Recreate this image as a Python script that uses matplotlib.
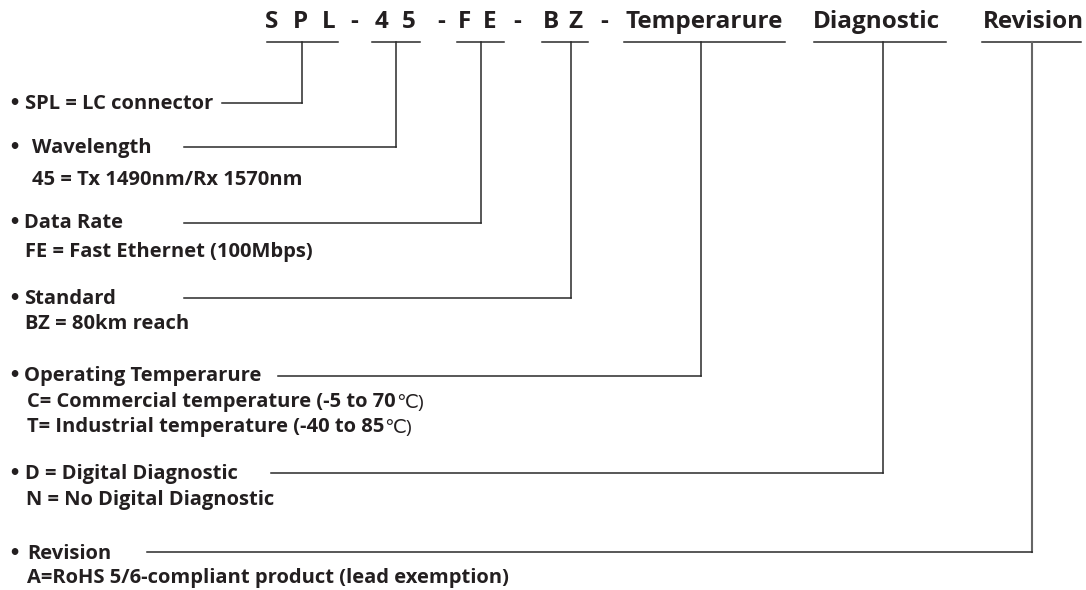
import matplotlib
matplotlib.use("Agg")
import matplotlib.pyplot as plt

# part number glyphs, drawn one by one (wide letter spacing in the original)
header_glyphs = ["S", "P", "L", "-", "4", "5", "-", "F", "E", "-", "B", "Z", "-",
                 "Temperarure", "Diagnostic", "Revision"]
# which glyphs belong to each underlined field
field_groups = [[0, 1, 2], [4, 5], [7, 8], [10, 11], [13], [14], [15]]

# bullet titles, one per field (same order as field_groups)
titles = ["SPL = LC connector",
          "Wavelength",
          "Data Rate",
          "Standard",
          "Operating Temperarure",
          "D = Digital Diagnostic",
          "Revision"]

# explanation lines under each title
details = [[],
           ["45 = Tx 1490nm/Rx 1570nm"],
           ["FE = Fast Ethernet (100Mbps)"],
           ["BZ = 80km reach"],
           ["C= Commercial temperature (-5 to 70", "T= Industrial temperature (-40 to 85"],
           ["N = No Digital Diagnostic"],
           ["A=RoHS 5/6-compliant product (lead exemption)"]]
# ending of the temperature lines, set in a lighter font
degree_suffix = "℃)"

# ---- layout (pixels, y downwards) ----
W, H = 1086, 590
glyph_x = [265, 293, 322, 350, 375, 402, 437, 458, 483, 513, 543, 568, 600,
           625, 813, 983]
header_base = 28
underline_y = 42
underline_pad = [(-2, 2), (3, 4), (1, 7), (1, 6), (1, 3), (-1, 6), (1, -3)]
# where the leader drops from each underline (fraction of its length)
drop_frac = [0.5, 0.5, 0.52, 0.62, 0.48, 0.52, 0.5]
bullet_x = 8
title_x = [25, 32, 24, 24, 24, 25, 27]
title_base = [109, 153, 228, 304, 381, 479, 559]
detail_x = [0, 32, 25, 25, 27, 26, 27]
detail_base = [[], [185], [257], [329], [407, 432], [505], [583]]
row_line_y = [103, 147, 223, 298, 376, 473, 552]
line_start_x = [222, 184, 184, 184, 278, 271, 147]

ink = "#231f20"
line_col = "#2a2a2a"
fam = ["Open Sans", "DejaVu Sans"]
body_size = 14.5

fig = plt.figure(figsize=(W / 100, H / 100), dpi=100)
ax = fig.add_axes([0, 0, 1, 1])
ax.set_xlim(0, W)
ax.set_ylim(H, 0)
ax.axis("off")

# header
glyph_texts = []
for g, x in zip(header_glyphs, glyph_x):
    t = ax.text(x, header_base, g, fontsize=17.5, fontweight="bold", color=ink,
                family=fam, ha="left", va="baseline")
    glyph_texts.append(t)

# rows on the left
for i, title in enumerate(titles):
    ax.text(bullet_x, title_base[i], "•", fontsize=body_size - 1, fontweight="bold",
            color=ink, family="DejaVu Sans", ha="left", va="baseline")
    ax.text(title_x[i], title_base[i], title, fontsize=body_size,
            fontweight="bold", color=ink, family=fam, ha="left", va="baseline")
    for d, yb in zip(details[i], detail_base[i]):
        t = ax.text(detail_x[i], yb, d, fontsize=body_size, fontweight="bold",
                    color=ink, family=fam, ha="left", va="baseline")
        if d.endswith("70") or d.endswith("85"):
            ax.annotate(degree_suffix, xy=(1, 0), xycoords=t, xytext=(0, 0),
                        textcoords="offset points", fontsize=body_size - 0.5,
                        fontweight="normal", color=ink, family=fam,
                        ha="left", va="bottom")

# underlines and leader lines, from the header text extents
fig.canvas.draw()
inv = ax.transData.inverted()
last = len(field_groups) - 1
for k, grp in enumerate(field_groups):
    boxes = [glyph_texts[n].get_window_extent() for n in grp]
    x0 = inv.transform((min(b.x0 for b in boxes), 0))[0] - underline_pad[k][0]
    x1 = inv.transform((max(b.x1 for b in boxes), 0))[0] + underline_pad[k][1]
    xc = x0 + drop_frac[k] * (x1 - x0)
    ax.plot([x0, x1], [underline_y, underline_y], color=line_col, lw=1.1)
    ax.plot([xc, xc], [underline_y, row_line_y[k]],
            color="#666666" if k == last else line_col,
            lw=1.5 if k == last else 1.1)
    ax.plot([line_start_x[k], xc], [row_line_y[k], row_line_y[k]],
            color=line_col, lw=1.1)

fig.savefig("out.png", dpi=100)
